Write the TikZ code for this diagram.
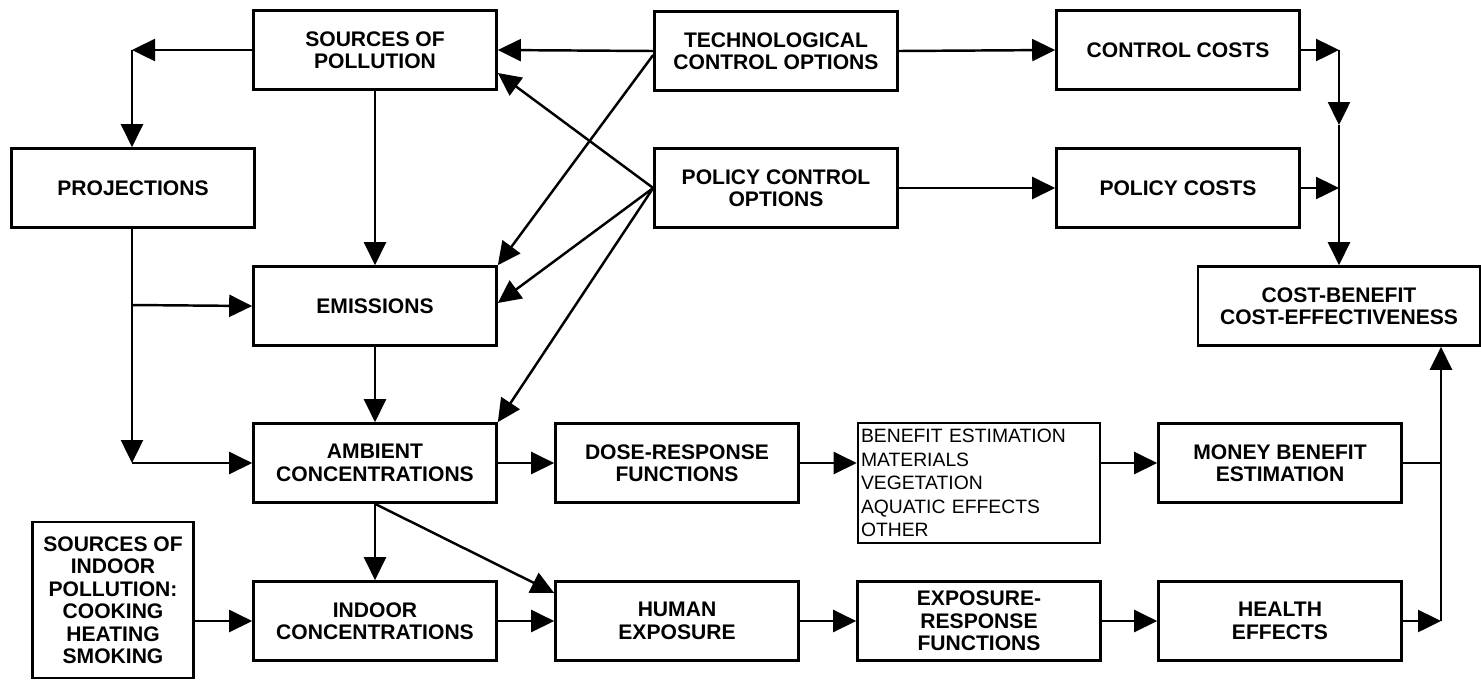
\documentclass[tikz,border=0pt]{standalone}
\usepackage{fontspec}
\setmainfont{Liberation Sans}
\usetikzlibrary{arrows.meta,positioning}

\tikzset{
  box/.style={draw,line width=1.5pt,minimum width=4.86cm,minimum height=1.58cm,
    inner sep=1pt,align=center,font=\bfseries\fontsize{12}{12.8}\selectfont},
  flow/.style={line width=1.4pt,-{Triangle[length=0.46cm,width=0.44cm]}},
  link/.style={line width=1.4pt}
}

\begin{document}
\begin{tikzpicture}[x=0.2mm,y=-0.2mm]
  \useasboundingbox (0,0) rectangle (1481,680);
  % top rows
  \node[box] (src) at (375,50) {SOURCES OF\\POLLUTION};
  \node[box] (proj) at (133,188) {PROJECTIONS};
  \node[box] (tech) at (776,51) {TECHNOLOGICAL\\CONTROL OPTIONS};
  \node[box] (pol) at (776,188) {POLICY CONTROL\\OPTIONS};
  \node[box] (ccost) at (1178,50) {CONTROL COSTS};
  \node[box] (pcost) at (1178,188) {POLICY COSTS};
  \node[box,minimum width=5.64cm] (cb) at (1339,306) {COST-BENEFIT\\COST-EFFECTIVENESS};
  % middle column
  \node[box] (emis) at (375,306) {EMISSIONS};
  \node[box] (amb) at (375,463) {AMBIENT\\CONCENTRATIONS};
  \node[box] (dose) at (677,463) {DOSE-RESPONSE\\FUNCTIONS};
  \node[box,minimum width=4.84cm,minimum height=2.4cm,text width=4.72cm,align=left,
    inner sep=1pt,font=\fontsize{11}{13.4}\selectfont] (ben) at (979,483)
    {BENEFIT ESTIMATION\\MATERIALS\\VEGETATION\\AQUATIC EFFECTS\\OTHER};
  \node[box] (money) at (1280,463) {MONEY BENEFIT\\ESTIMATION};
  % bottom row
  \node[box,minimum width=3.22cm,minimum height=3.12cm] (indsrc) at (113,600)
    {SOURCES OF\\INDOOR\\POLLUTION:\\COOKING\\HEATING\\SMOKING};
  \node[box] (indoor) at (375,621) {INDOOR\\CONCENTRATIONS};
  \node[box] (human) at (677,621) {HUMAN\\EXPOSURE};
  \node[box] (expr) at (979,621) {EXPOSURE-\\RESPONSE\\FUNCTIONS};
  \node[box] (health) at (1280,621) {HEALTH\\EFFECTS};

  % junctions
  \coordinate (pj) at (132,50);
  \coordinate (pe) at (132,305);
  \coordinate (pa) at (132,463);
  \coordinate (cj) at (1339,50);
  \coordinate (cm) at (1339,125);
  \coordinate (pc) at (1339,188);
  \coordinate (bj) at (1441,463);
  \coordinate (hj) at (1441,621);

  % sources and projections
  \draw[flow] (src.west) -- (pj);
  \draw[flow] (pj) -- (pj |- proj.north);
  \draw[flow] (src.south) -- (emis.north);
  \draw[flow] (proj.south -| pa) -- (pa);
  \draw[flow] (pa) -- (amb.west);
  \draw[flow] (pe) -- (emis.west);
  \draw[flow] (emis.south) -- (amb.north);

  % control options
  \draw[flow] (tech.west) -- (src.east);
  \draw[flow] ([yshift=-0.08cm]tech.west) -- (emis.north east);
  \draw[flow] (pol.west) -- ([yshift=-0.46cm]src.east);
  \draw[flow] (pol.west) -- ([yshift=0.06cm]emis.east);
  \draw[flow] (pol.west) -- (amb.north east);
  \draw[flow] (tech.east) -- (ccost.west);
  \draw[flow] (pol.east) -- (pcost.west);

  % costs
  \draw[flow] (ccost.east) -- (cj);
  \draw[flow] (cj) -- (cm);
  \draw[link] (cm) -- (pc);
  \draw[flow] (pcost.east) -- (pc);
  \draw[flow] (pc) -- (cb.north);

  % benefits
  \draw[flow] (amb.east) -- (dose.west);
  \draw[flow] (dose.east) -- (dose.east -| ben.west);
  \draw[flow] (money.west -| ben.east) -- (money.west);
  \draw[link] (money.east) -- (bj);
  \draw[flow] (amb.south) -- (indoor.north);
  \draw[flow] (amb.south) -- ([yshift=0.56cm]human.west);
  \draw[flow] (indsrc.east |- indoor.west) -- (indoor.west);
  \draw[flow] (indoor.east) -- (human.west);
  \draw[flow] (human.east) -- (expr.west);
  \draw[flow] (expr.east) -- (health.west);
  \draw[flow] (health.east) -- (hj);
  \draw[flow] (hj) -- (hj |- cb.south);
\end{tikzpicture}
\end{document}
